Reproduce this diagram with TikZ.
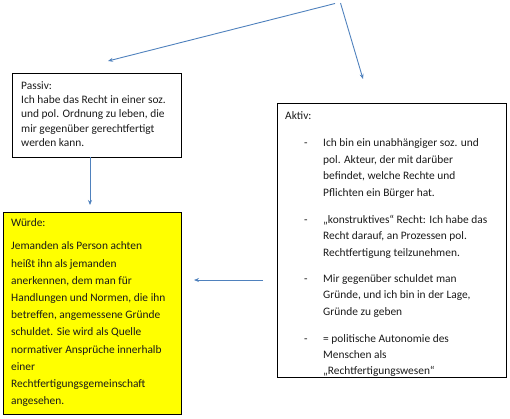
\documentclass[tikz,border=0pt]{standalone}
\usepackage{fontspec}
\setmainfont{Carlito}
\usetikzlibrary{arrows.meta}
\definecolor{arrowblue}{HTML}{4F81BD}
\definecolor{txt}{HTML}{1A1A1A}
\definecolor{wyellow}{HTML}{FFFF00}
\newcommand{\dashitem}{\llap{\makebox[19bp][l]{-}}}
\newcommand{\firstline}{\rule{0pt}{8bp}}
\tikzset{
  box/.style={draw=black, line width=0.9bp, anchor=north west, inner sep=0pt},
  boxtext/.style={anchor=north west, inner sep=0pt, align=left, text=txt, font=\fontsize{11.4bp}{14.2bp}\selectfont},
  aktivlines/.style={boxtext, font=\fontsize{11.4bp}{16.4bp}\selectfont},
  conn/.style={draw=arrowblue, line width=0.9bp, -{Stealth[length=5bp,width=4bp]}},
}
\begin{document}
\begin{tikzpicture}[x=1bp,y=-1bp]
\useasboundingbox (0,0) rectangle (510,418);
% boxes
\node[box, minimum width=169bp, minimum height=84bp] (passiv) at (12,73) {};
\node[box, minimum width=229bp, minimum height=274bp] (aktiv) at (277,103) {};
\node[box, fill=wyellow, minimum width=178bp, minimum height=202bp] (wuerde) at (3,212) {};
% texts (first baseline = y + 8)
\node[boxtext] (passivtext) at (21,81.3) {\firstline Passiv:\\Ich habe das Recht in einer soz.\\und pol. Ordnung zu leben, die\\mir gegenüber gerechtfertigt\\werden kann.};
\node[boxtext, font=\fontsize{11.4bp}{17.2bp}\selectfont] (wuerdetext) at (11,218.7) {\firstline Würde:\\[5.8bp]Jemanden als Person achten\\heißt ihn als jemanden\\anerkennen, dem man für\\Handlungen und Normen, die ihn\\betreffen, angemessene Gründe\\schuldet. Sie wird als Quelle\\normativer Ansprüche innerhalb\\einer\\Rechtfertigungsgemeinschaft\\angesehen.};
\node[boxtext] (aktivtext) at (285,111) {\firstline Aktiv:};
\node[aktivlines] (b1) at (323,138.7) {\firstline\dashitem Ich bin ein unabhängiger soz. und\\pol. Akteur, der mit darüber\\befindet, welche Rechte und\\Pflichten ein Bürger hat.};
\node[aktivlines] (b2) at (323,214.8) {\firstline\dashitem „konstruktives“ Recht: Ich habe das\\Recht darauf, an Prozessen pol.\\Rechtfertigung teilzunehmen.};
\node[aktivlines] (b3) at (323,274) {\firstline\dashitem Mir gegenüber schuldet man\\Gründe, und ich bin in der Lage,\\Gründe zu geben};
\node[aktivlines] (b4) at (323,333.8) {\firstline\dashitem = politische Autonomie des\\Menschen als\\„Rechtfertigungswesen“};
% connector points
\coordinate (topL) at (335,3.5);
\coordinate (topR) at (340.5,3);
\coordinate (tipP) at (108,61);
\coordinate (tipA) at (363,79);
\coordinate (pstart) at (90,157);
\coordinate (ptip) at (90,205);
\coordinate (hstart) at (263,280);
\coordinate (htip) at (194,280);
\draw[conn] (topL) -- (tipP);
\draw[conn] (topR) -- (tipA);
\draw[conn] (pstart) -- (ptip);
\draw[conn] (hstart) -- (htip);
\end{tikzpicture}
\end{document}
